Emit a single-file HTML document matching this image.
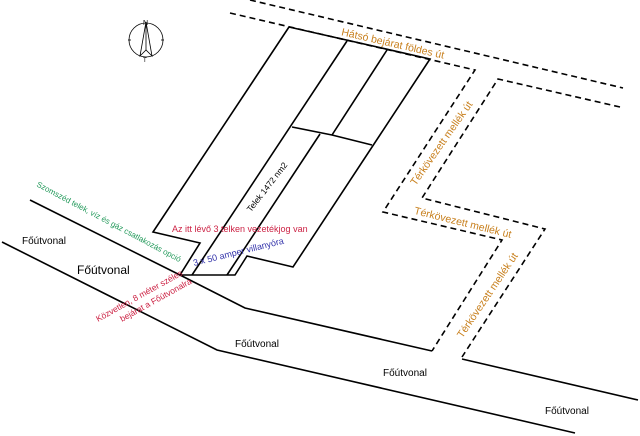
<!DOCTYPE html>
<html><head><meta charset="utf-8"><style>
html,body{margin:0;padding:0;background:#fff;}
svg{display:block;}
text{font-family:"Liberation Sans",sans-serif;}
</style></head><body>
<svg width="640" height="436" viewBox="0 0 640 436" xmlns="http://www.w3.org/2000/svg">
<g fill="none" stroke="#000" stroke-width="1.6">
<polyline points="289,27 430,59 293,267 247,256 235,275 180,275 200,243 153,232 289,27"/>
<line x1="347" y1="41" x2="192" y2="275"/>
<line x1="387" y1="50" x2="332" y2="135"/>
<line x1="320" y1="134" x2="227" y2="275"/>
<polyline points="292,127 332,135 372,145"/>
<polyline points="30,200 180,275 245,308 432,351"/>
<polyline points="2,242 217,350 575,433"/>
<line x1="462" y1="359" x2="638" y2="400"/>
</g>
<g fill="none" stroke="#000" stroke-width="1.6" stroke-dasharray="6,4">
<polyline points="230,13 475,70 383,212 502,240 432,351"/>
<line x1="250" y1="0" x2="623" y2="88"/>
<polyline points="620,107 498,79 422,198 545,229 462,357"/>
</g>
<g stroke="#000" stroke-width="0.8" fill="none">
<circle cx="146" cy="40" r="17"/>
<polygon points="146,22 140,56 146,50 152,56" fill="#fff"/>
<line x1="146" y1="22" x2="146" y2="50"/>
<line x1="128" y1="40" x2="131" y2="40"/><line x1="161" y1="40" x2="164" y2="40"/>
</g>
<text x="143" y="25" font-size="7">N</text>
<text x="143" y="62" font-size="6">T</text>
<g font-size="10">
<text x="22" y="244">Főútvonal</text>
<text x="77" y="274" font-size="12">Főútvonal</text>
<text x="235" y="347">Főútvonal</text>
<text x="383" y="376">Főútvonal</text>
<text x="545" y="414">Főútvonal</text>
</g>
<text x="172" y="232" font-size="9" fill="#cc2244">Az itt lévő 3 telken vezetékjog van</text>
<text font-size="8" fill="#22995a" transform="translate(36,186) rotate(28)">Szomszéd telek, víz és gáz csatlakozás opció</text>
<text font-size="9" fill="#3333aa" transform="translate(194,266) rotate(-14)">3 x 50 amper villanyóra</text>
<text font-size="8.5" fill="#cc2244" transform="translate(98,322) rotate(-29)">Közvetlen, 8 méter széles</text>
<text font-size="8.5" fill="#cc2244" transform="translate(122,322) rotate(-29)">bejárat a Főútvonalra</text>
<text font-size="8.5" fill="#000" transform="translate(267,187) rotate(-52)" text-anchor="middle" dy="3">Telek 1472 nm2</text>
<g font-size="10.5" fill="#c8801e" text-anchor="middle">
<text transform="translate(393,43) rotate(13)" dy="4">Hátsó bejárat földes út</text>
<text transform="translate(441,143) rotate(-55)" dy="4">Térkövezett mellék út</text>
<text transform="translate(463,222) rotate(14)" dy="4">Térkövezett mellék út</text>
<text transform="translate(487,295) rotate(-56)" dy="4">Térkövezett mellék út</text>
</g>
</svg>
</body></html>
